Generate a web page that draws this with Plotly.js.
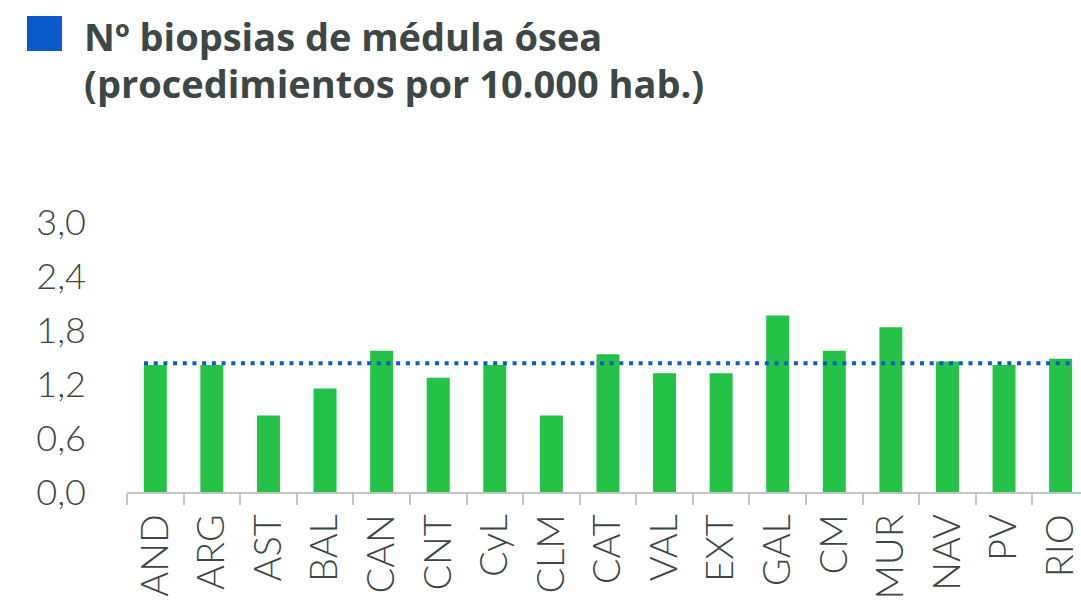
<!DOCTYPE html>
<html>
<head>
<meta charset="utf-8">
<script src="https://cdn.plot.ly/plotly-3.0.1.min.js"></script>
<style>html,body{margin:0;padding:0;background:#fff;}#chart{width:1081px;height:602px;}</style>
</head>
<body>
<div id="chart"></div>
<script>
var categories = ["AND","ARG","AST","BAL","CAN","CNT","CyL","CLM","CAT","VAL","EXT","GAL","CM","MUR","NAV","PV","RIO"];
var values = [1.41,1.41,0.85,1.15,1.57,1.27,1.41,0.85,1.53,1.32,1.32,1.96,1.57,1.83,1.45,1.41,1.48];
var averageValue = 1.43;
var yTicks = [0, 0.6, 1.2, 1.8, 2.4, 3.0];
var titleLines = ["Nº biopsias de médula ósea", "(procedimientos por 10.000 hab.)"];

var textColor = "#3d4745";
var xTickFont = {family: "Lato, 'Open Sans', sans-serif", size: 38, color: textColor, weight: 300};
var yTickFont = {family: "Lato, 'Open Sans', sans-serif", size: 36, color: textColor, weight: 300};
var titleFont = {family: "'Open Sans', sans-serif", size: 38, color: textColor, weight: 700};

var bars = {
  type: "bar",
  x: categories,
  y: values,
  marker: {color: "#24c247"},
  hoverinfo: "x+y",
  showlegend: false
};

var plotLeft = 127, plotTop = 222, plotW = 954, plotH = 270;
function px2paperX(px) { return (px - plotLeft) / plotW; }
function px2paperY(py) { return 1 + (plotTop - py) / plotH; }

var layout = {
  width: 1081,
  height: 602,
  margin: {l: plotLeft, r: 0, t: plotTop, b: 602 - plotTop - plotH, pad: 0},
  paper_bgcolor: "#ffffff",
  plot_bgcolor: "#ffffff",
  separators: ",.",
  bargap: 0.594,
  showlegend: false,
  annotations: [
    {
      text: titleLines[0],
      xref: "paper", yref: "paper",
      x: px2paperX(83), y: px2paperY(63),
      xanchor: "left", yanchor: "bottom",
      showarrow: false, font: titleFont,
      borderpad: 0
    },
    {
      text: titleLines[1],
      xref: "paper", yref: "paper",
      x: px2paperX(83), y: px2paperY(110),
      xanchor: "left", yanchor: "bottom",
      showarrow: false, font: titleFont,
      borderpad: 0
    }
  ],
  xaxis: {
    type: "category",
    range: [-0.5, 16.36],
    showgrid: false,
    zeroline: false,
    showline: true,
    linecolor: "#c4c4c4",
    linewidth: 2,
    ticks: "outside",
    tickson: "boundaries",
    ticklen: 11,
    tickwidth: 2,
    tickcolor: "#c4c4c4",
    tickangle: -90,
    tickfont: xTickFont,
    ticklabelstandoff: 5,
    fixedrange: true
  },
  yaxis: {
    range: [0, 3.0],
    tickvals: yTicks,
    tickformat: ".1f",
    showgrid: false,
    zeroline: false,
    showline: false,
    ticks: "",
    tickfont: yTickFont,
    ticklabelstandoff: 40,
    fixedrange: true
  },
  shapes: [
    {
      type: "line",
      xref: "x",
      yref: "y",
      x0: -0.2,
      x1: 16.2,
      y0: averageValue,
      y1: averageValue,
      line: {color: "#0a5ccc", width: 4, dash: "4px,5.7px"}
    },
    {
      type: "rect",
      xref: "paper",
      yref: "paper",
      x0: px2paperX(27),
      x1: px2paperX(62),
      y0: px2paperY(51),
      y1: px2paperY(16),
      fillcolor: "#0a5ccc",
      line: {width: 0}
    }
  ]
};

Plotly.newPlot("chart", [bars], layout, {displayModeBar: false, staticPlot: true});
</script>
</body>
</html>
